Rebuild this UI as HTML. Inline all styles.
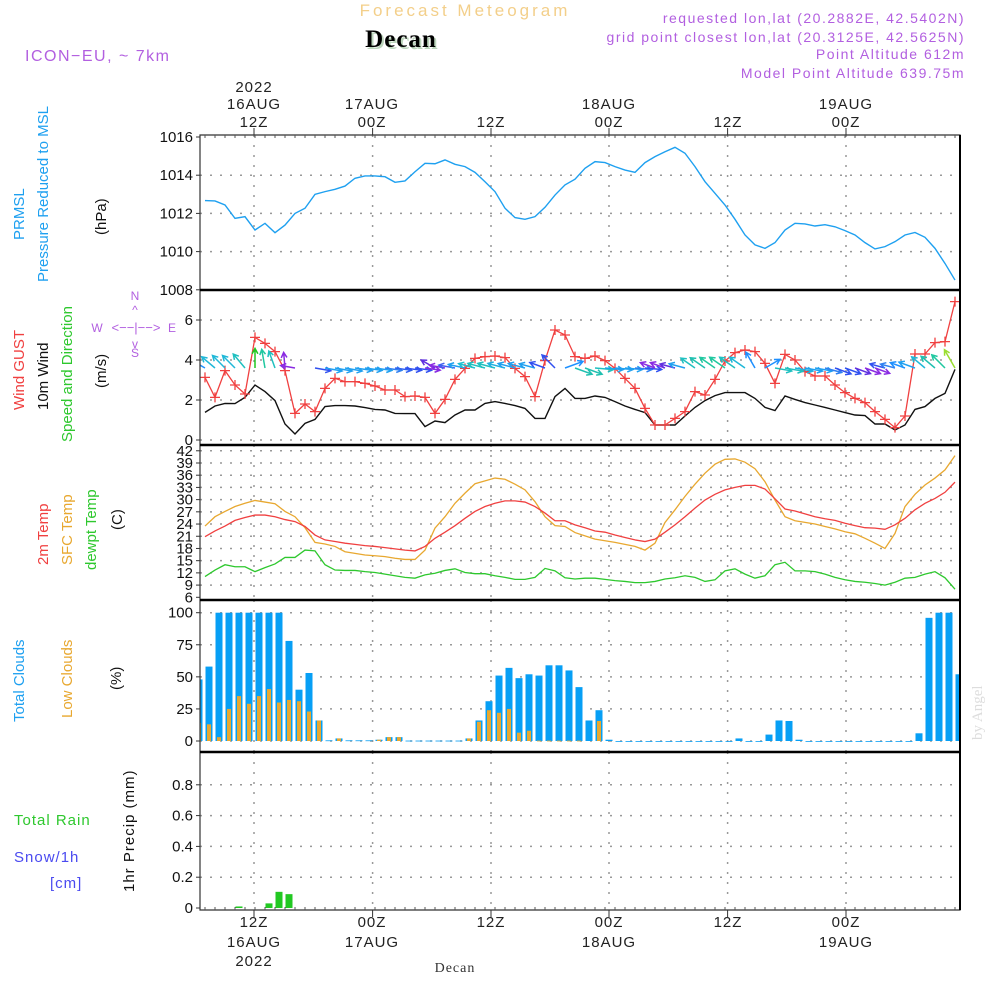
<!DOCTYPE html>
<html><head><meta charset="utf-8"><style>
body{margin:0;background:#fff}
svg{display:block;font-family:"Liberation Sans",sans-serif}
.t{font-size:15px;fill:#222;letter-spacing:1px}
.yl{font-size:15px;fill:#111;text-anchor:end}
.ax{font-size:15px;fill:#222;text-anchor:middle;letter-spacing:1px}
.pu{fill:#b25fe0;font-size:14px;letter-spacing:1.5px}
</style></head><body>
<svg id="chart" width="1000" height="1000" viewBox="0 0 1000 1000">
<text x="465" y="16" text-anchor="middle" style="font-size:17px;fill:#f3cf8a;letter-spacing:3px">Forecast Meteogram</text>
<text x="403" y="49" text-anchor="middle" style="font-family:'Liberation Serif',serif;font-weight:bold;font-size:25px;fill:#bcd5bc;letter-spacing:1px">Decan</text>
<text x="401" y="47" text-anchor="middle" style="font-family:'Liberation Serif',serif;font-weight:bold;font-size:25px;fill:#000;letter-spacing:1px">Decan</text>
<text x="25" y="61" class="pu" style="font-size:16px">ICON−EU, ~ 7km</text>
<g text-anchor="end" class="pu">
<text x="965" y="23" class="pu" text-anchor="end">requested lon,lat (20.2882E, 42.5402N)</text>
<text x="965" y="42" class="pu" text-anchor="end">grid point closest lon,lat (20.3125E, 42.5625N)</text>
<text x="965" y="59" class="pu" text-anchor="end">Point Altitude 612m</text>
<text x="965" y="78" class="pu" text-anchor="end">Model Point Altitude 639.75m</text>
</g>
<g>
<text class="ax" x="254" y="92">2022</text><text class="ax" x="254" y="109">16AUG</text><text class="ax" x="254" y="127">12Z</text>
<text class="ax" x="372" y="109">17AUG</text><text class="ax" x="372" y="127">00Z</text>
<text class="ax" x="491" y="127">12Z</text>
<text class="ax" x="609" y="109">18AUG</text><text class="ax" x="609" y="127">00Z</text>
<text class="ax" x="728" y="127">12Z</text>
<text class="ax" x="846" y="109">19AUG</text><text class="ax" x="846" y="127">00Z</text>
</g>
<g>
<text class="ax" x="254" y="927">12Z</text><text class="ax" x="254" y="947">16AUG</text><text class="ax" x="254" y="966">2022</text>
<text class="ax" x="372" y="927">00Z</text><text class="ax" x="372" y="947">17AUG</text>
<text class="ax" x="491" y="927">12Z</text>
<text class="ax" x="609" y="927">00Z</text><text class="ax" x="609" y="947">18AUG</text>
<text class="ax" x="728" y="927">12Z</text>
<text class="ax" x="846" y="927">00Z</text><text class="ax" x="846" y="947">19AUG</text>
<text x="455" y="972" text-anchor="middle" style="font-family:'Liberation Serif',serif;font-size:14px;fill:#333;letter-spacing:1px">Decan</text>
</g>
<text transform="translate(982,740) rotate(-90)" style="font-family:'Liberation Serif',serif;font-size:15px;fill:#ddd">by Angel</text>
<g style="font-size:15px">
<text transform="translate(24,240) rotate(-90)" fill="#1ea0f0">PRMSL</text>
<text transform="translate(48,282) rotate(-90)" fill="#1ea0f0">Pressure Reduced to MSL</text>
<text transform="translate(106,235) rotate(-90)" fill="#111">(hPa)</text>
</g>
<g style="font-size:15px">
<text transform="translate(24,410) rotate(-90)" fill="#f04040">Wind GUST</text>
<text transform="translate(48,410) rotate(-90)" fill="#111">10m Wind</text>
<text transform="translate(72,442) rotate(-90)" fill="#2ec82e">Speed and Direction</text>
<text transform="translate(106,388) rotate(-90)" fill="#111">(m/s)</text>
</g>
<g fill="#b25fe0" style="font-size:12px" text-anchor="middle">
<text x="135" y="300">N</text><text x="135" y="357">S</text><text x="97" y="332">W</text><text x="172" y="332">E</text>
<text x="136" y="332" style="font-size:13px">&lt;−−|−−&gt;</text>
<text x="135" y="314">^</text><text x="135" y="348">v</text>
</g>
<g style="font-size:15px">
<text transform="translate(48,565) rotate(-90)" fill="#f04040">2m Temp</text>
<text transform="translate(72,565) rotate(-90)" fill="#e8a830">SFC Temp</text>
<text transform="translate(96,570) rotate(-90)" fill="#2ec82e">dewpt Temp</text>
<text transform="translate(122,530) rotate(-90)" fill="#111">(C)</text>
</g>
<g style="font-size:15px">
<text transform="translate(24,722) rotate(-90)" fill="#1ea0f0">Total Clouds</text>
<text transform="translate(72,718) rotate(-90)" fill="#e8a830">Low Clouds</text>
<text transform="translate(121,690) rotate(-90)" fill="#111">(%)</text>
</g>
<g style="font-size:15px;letter-spacing:1px">
<text x="14" y="825" fill="#2ec82e">Total  Rain</text>
<text x="14" y="862" fill="#4a4af0">Snow/1h</text>
<text x="50" y="888" fill="#4a4af0">[cm]</text>
<text transform="translate(134,892) rotate(-90)" fill="#111">1hr Precip (mm)</text>
</g>
<g id="plot"></g>
</svg>
<script>
const pressure=[1012.67,1012.65,1012.44,1011.74,1011.83,1011.13,1011.48,1010.99,1011.39,1012.0,1012.27,1013.0,1013.14,1013.26,1013.43,1013.84,1013.96,1013.96,1013.92,1013.63,1013.7,1014.18,1014.62,1014.6,1014.8,1014.57,1014.45,1014.15,1013.66,1013.14,1012.27,1011.78,1011.69,1011.83,1012.32,1012.96,1013.49,1013.79,1014.36,1014.71,1014.66,1014.45,1014.27,1014.15,1014.66,1014.97,1015.23,1015.46,1015.15,1014.45,1013.66,1013.05,1012.44,1011.69,1010.87,1010.35,1010.17,1010.47,1011.13,1011.48,1011.45,1011.34,1011.41,1011.3,1011.1,1010.87,1010.47,1010.14,1010.26,1010.52,1010.87,1011.0,1010.75,1010.17,1009.38,1008.51];
const wind10m=[1.38,1.7,1.83,1.82,2.13,2.75,2.42,1.97,0.8,0.3,0.83,1.03,1.67,1.72,1.72,1.7,1.62,1.53,1.5,1.33,1.32,1.32,0.67,0.95,0.87,1.25,1.5,1.5,1.83,1.92,1.83,1.72,1.58,1.08,1.08,2.17,2.58,2.08,2.08,2.2,2.13,1.92,1.7,1.53,1.37,0.75,0.75,0.75,1.2,1.63,1.97,2.22,2.37,2.37,2.37,2.08,1.63,1.47,2.2,2.03,1.87,1.75,1.63,1.5,1.37,1.25,1.22,0.8,0.8,0.5,0.75,1.53,1.67,2.08,2.33,3.53];
const gust=[3.13,2.13,3.47,2.75,2.3,5.13,4.83,4.42,3.47,1.33,1.8,1.42,2.58,3.08,2.92,2.92,2.83,2.7,2.5,2.5,2.17,2.2,2.13,1.33,2.03,3.03,3.58,4.08,4.17,4.2,4.12,3.58,3.17,2.17,3.97,5.5,5.25,4.17,4.08,4.2,3.97,3.58,3.08,2.58,1.58,0.75,0.75,1.08,1.42,2.42,2.25,3.03,3.95,4.37,4.5,4.42,3.83,2.83,4.28,4.0,3.42,3.2,3.2,2.75,2.37,2.08,1.87,1.42,1.03,0.62,1.2,4.3,4.3,4.87,4.92,6.92];
const windDir=[150,140,135,135,130,90,100,110,95,170,null,350,350,350,350,352,352,352,352,352,352,352,352,150,170,170,168,165,165,165,165,165,165,165,160,135,20,340,340,355,355,355,355,355,355,160,160,165,165,145,145,145,145,145,145,120,30,350,350,350,350,350,345,340,340,340,340,340,165,165,160,160,140,140,135,120];
const windCol=["#1e90ff","#20b8d8","#20b8d8","#20b8d8","#20c0c0","#20c820","#20c8a0","#20c0c0","#8a2be2","#8a2be2","#fff","#3050f0","#20a0f0","#20a0f0","#20a0f0","#20a0f0","#20a0f0","#20a0f0","#3080f0","#3060f0","#3050f0","#3050f0","#8a2be2","#6030e0","#8a2be2","#4060f0","#20a0f0","#20c0d0","#20c0c0","#20c0c0","#20b0e0","#20a0f0","#20a0f0","#20a0f0","#3050f0","#3050f0","#1e90ff","#20c0b0","#20c0b0","#20c0c0","#20a0f0","#20a0f0","#20a0f0","#3080f0","#3050f0","#8a2be2","#8a2be2","#6030e0","#20a0f0","#20c0c0","#20c0b0","#20c8a0","#20c8a0","#20c0c0","#20b8d8","#1e90ff","#1e90ff","#20c0c0","#20c0c0","#20b0e0","#20a0f0","#20a0f0","#3080f0","#3050f0","#3050f0","#6030e0","#8a2be2","#8a2be2","#3050f0","#3080f0","#1e90ff","#20a0f0","#20b8d8","#20c0b0","#20c8a0","#9ade30"];
const temp2m=[20.9,22.3,23.5,24.9,25.6,26.2,26.2,25.8,25.1,24.6,23.4,21.3,20.1,19.7,19.3,19.0,18.7,18.5,18.2,17.9,17.6,17.4,18.5,20.5,22.0,23.6,25.4,27.1,28.3,29.1,29.7,29.7,29.4,28.3,26.7,24.8,24.8,23.8,23.1,22.3,22.0,21.3,20.7,20.1,19.7,20.3,22.0,23.8,25.8,27.9,29.9,31.3,32.4,33.0,33.5,33.5,32.6,30.2,27.7,27.2,26.5,25.8,25.3,24.9,24.2,23.6,23.1,23.0,22.7,23.8,25.4,27.5,29.1,30.3,31.8,34.3];
const tempSfc=[23.5,25.8,27.1,28.3,29.1,29.8,29.4,29.0,27.1,25.8,23.1,19.5,19.1,18.5,17.2,16.8,16.4,16.2,16.0,15.6,15.3,15.3,17.6,23.0,25.8,29.1,31.6,33.9,34.6,35.3,35.0,33.8,32.4,29.5,25.8,23.6,23.4,21.9,21.1,20.3,19.9,19.5,19.0,18.5,17.6,19.3,24.4,27.5,30.8,33.8,36.5,38.7,39.9,40.0,39.2,37.6,34.4,29.9,25.8,24.8,24.4,24.0,23.4,22.8,22.1,21.6,20.5,19.3,18.0,21.7,28.3,31.3,33.6,35.3,37.3,40.8];
const dewpt=[11.1,12.7,14.0,13.5,13.5,12.3,13.3,14.2,15.8,15.8,17.6,17.4,14.0,12.7,12.6,12.6,12.3,12.1,11.7,11.3,10.9,10.7,11.5,11.9,12.6,13.0,12.1,11.8,11.8,11.3,10.9,10.4,10.4,10.9,13.1,12.5,10.8,10.5,10.7,10.7,10.4,10.1,9.9,9.6,9.6,9.9,10.5,10.8,11.3,10.9,9.9,10.3,12.5,13.0,11.7,10.7,11.3,14.0,14.6,12.5,12.5,12.3,11.7,10.9,10.3,9.9,9.7,9.4,9.0,9.7,10.7,10.9,11.7,12.3,10.8,8.0];
const totalClouds=[48,58,100,100,100,100,100,100,100,78,40,53,16,0.5,2,0.5,0.5,0.5,1,3,3,0.3,0.3,0.3,0.3,0.3,0.3,2,16,31,51,57,49,52,51,59,59,55,42,16,24,1,0,0,0,0,0,0,0,0,0,0,0,0,2,0,0,5,16,15.6,1,0,0,0,0,0,0,0,0,0,0,0,6,96,100,100,52];
const lowClouds=[14,13,3,25,35,29,35,40.5,30,32,31,23,16,0,2,0,0,0,1,3,3,0,0,0,0,0,0,2,15,24,22,25,6.5,8,0.3,0.3,0.3,0.3,0.3,0,15.6,0,0,0,0,0,0,0,0,0,0,0,0,0,0,0,0,0,0,0,0,0,0,0,0,0,0,0,0,0,0,0,0,0,0,0,0];
const precip=[0,0,0,0,0.01,0,0,0.03,0.105,0.09,0,0,0,0,0,0,0,0,0,0,0,0,0,0,0,0,0,0,0,0,0,0,0,0,0,0,0,0,0,0,0,0,0,0,0,0,0,0,0,0,0,0,0,0,0,0,0,0,0,0,0,0,0,0,0,0,0,0,0,0,0,0,0,0,0,0,0];
const pTicks=[1016,1014,1012,1010,1008];
const wTicks=[0,2,4,6];
const tTicks=[6,9,12,15,18,21,24,27,30,33,36,39,42];
const cTicks=[0,25,50,75,100];
const rTicks=[0,0.2,0.4,0.6,0.8];
const timeGrid=[254,372.6,491,609,727.6,846];
const X0=200,X1=960;
const xL=i=>205+10*i;
const xB=k=>199+10*k;
const yP=v=>137+(1016-v)*19.1;
const yW=v=>440-v*20;
const yT=v=>597.3-(v-6)*4.07;
const yC=v=>741-v*1.283;
const yR=v=>908-v*154;
const NS="http://www.w3.org/2000/svg";
const plot=document.getElementById('plot');
function mk(tag,attrs,parent){const e=document.createElementNS(NS,tag);for(const k in attrs)e.setAttribute(k,attrs[k]);(parent||plot).appendChild(e);return e;}
const defs=mk('defs',{});const cp=mk('clipPath',{id:'cl'},defs);mk('rect',{x:X0,y:135,width:X1-X0,height:775},cp);
const g=mk('g',{'clip-path':'url(#cl)'});


const panels=[[135,290,pTicks,yP],[290,445,wTicks,yW],[445,600,tTicks,yT],[600,752,cTicks,yC],[752,910,rTicks,yR]];
panels.forEach((p,pi)=>{
  const [top,bot,ticks,ys]=p;
  ticks.forEach(t=>{
    const y=ys(t);
    if(y>top+3&&y<bot-3){const l=mk('line',{x1:X0,x2:X1,y1:y,y2:y,stroke:'#999','stroke-width':1.5,'stroke-dasharray':'2,8'},g);
    
    }
    const tl=mk('line',{x1:X0-4,x2:X0,y1:y,y2:y,stroke:'#333'});
    
    
    const tx=mk('text',{x:193,y:y+5,class:'yl'});tx.textContent=String(t);
    
    
  });
  timeGrid.forEach(x=>{const l=mk('line',{x1:x,x2:x,y1:top,y2:bot,stroke:'#999','stroke-width':1.5,'stroke-dasharray':'2,8'},g);
    
    });
});
function line(arr,xs,ys,col,w,name){const pts=arr.map((v,i)=>xs(i)+','+ys(v)).join(' ');const p=mk('polyline',{points:pts,fill:'none',stroke:col,'stroke-width':w||1.3},g);
  
  return p;}
line(pressure,xL,yP,'#1ea0f0',1.4,'pressure-line');
line(wind10m,xL,yW,'#111',1.4,'wind-10m-line');
line(gust,xL,yW,'#f04040',1.3,'gust-line');
gust.forEach((v,i)=>{const x=xL(i),y=yW(v);
  const m=mk('path',{d:`M${x-5},${y}H${x+5}M${x},${y-5}V${y+5}`,stroke:'#f04040','stroke-width':1.3},g);
  
  });
windDir.forEach((d,i)=>{ if(d===null)return;
  const L=14+wind10m[i]*2,x=xL(i),y=368,a=d*Math.PI/180;
  const x2=x+L*Math.cos(a),y2=y-L*Math.sin(a);
  const h1=a+Math.PI-0.5,h2=a+Math.PI+0.5;
  const p=mk('path',{d:`M${x},${y}L${x2},${y2}M${x2+6*Math.cos(h1)},${y2-6*Math.sin(h1)}L${x2},${y2}L${x2+6*Math.cos(h2)},${y2-6*Math.sin(h2)}`,stroke:windCol[i],'stroke-width':1.5,fill:'none'},g);
  
  });
line(tempSfc,xL,yT,'#e8a830',1.3,'sfc-temp-line');
line(temp2m,xL,yT,'#f04040',1.3,'temp-2m-line');
line(dewpt,xL,yT,'#2ec82e',1.3,'dewpt-line');
totalClouds.forEach((v,k)=>{const y=yC(v);const r=mk('rect',{x:xB(k)-3.5,y:y,width:7,height:Math.max(741-y,0.8),fill:'#079ff5'},g);
  
  });
lowClouds.forEach((v,k)=>{if(v<=0)return;const y=yC(v);const r=mk('rect',{x:xB(k)-2,y:y,width:4,height:Math.max(741-y,0.8),fill:'#e8a830'},g);
  
  });
precip.forEach((v,k)=>{if(v<=0)return;const y=yR(v);const r=mk('rect',{x:xB(k)-3.5,y:y,width:7,height:908-y,fill:'#22c822'},g);
  
  });
const fr=mk('path',{d:`M${X0},135H${X1}V910H${X0}Z`,fill:'none',stroke:'#333','stroke-width':1.2});


mk('line',{x1:X1,x2:X1,y1:135,y2:910,stroke:'#000','stroke-width':2});
[290,445,600,752].forEach(y=>{const l=mk('line',{x1:X0,x2:X1+1,y1:y,y2:y,stroke:'#000','stroke-width':2.5});
  
  });
timeGrid.forEach(x=>{mk('line',{x1:x,x2:x,y1:128,y2:135,stroke:'#333'});mk('line',{x1:x,x2:x,y1:910,y2:917,stroke:'#333'});});
for(let i=0;i<76;i++){mk('line',{x1:xL(i),x2:xL(i),y1:135,y2:138,stroke:'#555'});mk('line',{x1:xL(i),x2:xL(i),y1:907,y2:910,stroke:'#555'});}
</script>
</body></html>
